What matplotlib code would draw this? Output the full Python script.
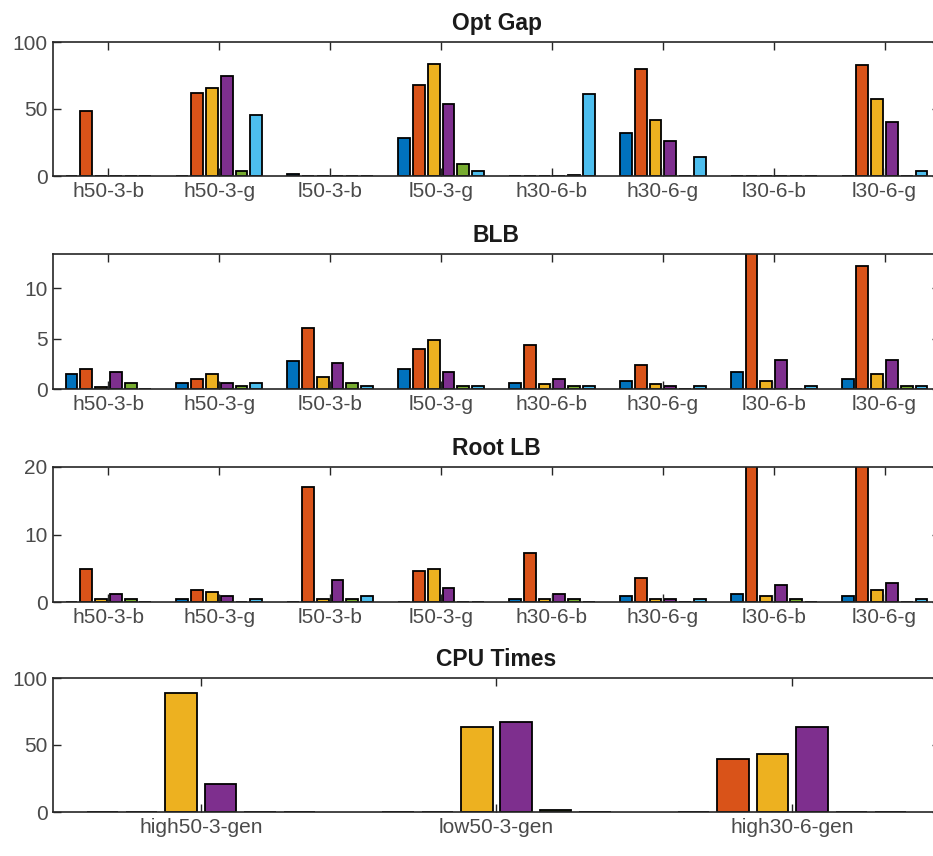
import numpy as np
import matplotlib
matplotlib.use("Agg")
import matplotlib.pyplot as plt

plt.rcParams['font.family'] = ['Liberation Sans', 'DejaVu Sans']

groups = ["h50-3-b", "h50-3-g", "l50-3-b", "l50-3-g", "h30-6-b", "h30-6-g", "l30-6-b", "l30-6-g"]
cpu_groups = ["high50-3-gen", "low50-3-gen", "high30-6-gen"]

# one list per series (6 series), one value per group
opt_gap = [
    [0, 0, 1.5, 28, 0, 32, 0, 0],
    [48.5, 62, 0, 68, 0, 80, 0, 83],
    [0, 66, 0, 83.5, 0, 42, 0, 57.5],
    [0, 74.5, 0, 54, 0, 26, 0, 40],
    [0, 3.5, 0, 9, 1, 0, 0, 0],
    [0, 45.5, 0, 3.5, 61, 14.5, 0, 3.5],
]
blb = [
    [1.5, 0.55, 2.8, 1.95, 0.55, 0.8, 1.7, 1.0],
    [1.95, 1.0, 6.05, 4.0, 4.4, 2.4, 15, 12.2],
    [0.2, 1.5, 1.15, 4.9, 0.45, 0.5, 0.8, 1.45],
    [1.7, 0.55, 2.6, 1.7, 1.0, 0.25, 2.85, 2.85],
    [0.55, 0.25, 0.55, 0.25, 0.25, 0, 0, 0.25],
    [0, 0.55, 0.3, 0.25, 0.25, 0.25, 0.25, 0.25],
]
root_lb = [
    [0, 0.4, 0, 0, 0.4, 0.84, 1.25, 0.84],
    [4.95, 1.85, 17.0, 4.55, 7.25, 3.55, 24, 24],
    [0.4, 1.5, 0.4, 4.95, 0.4, 0.4, 0.84, 1.75],
    [1.15, 0.84, 3.2, 2.1, 1.25, 0.4, 2.45, 2.8],
    [0.4, 0, 0.4, 0, 0.4, 0, 0.4, 0],
    [0, 0.4, 0.84, 0, 0, 0.4, 0, 0.4],
]
cpu_times = [
    [0, 0, 0],
    [0, 0, 39.5],
    [88.5, 63.5, 43],
    [21, 67.5, 63.5],
    [0, 1.5, 0],
    [0, 0, 0],
]

colors = ["#0072BD", "#D95319", "#EDB120", "#7E2F8E", "#77AC30", "#4DBEEE"]

W, H = 933, 856
fig = plt.figure(figsize=(W / 100, H / 100), dpi=100)

# (title, data, labels, ylim, yticks, top px, bottom px)
panels = [
    ("Opt Gap", opt_gap, groups, 100, [0, 50, 100], 42, 176),
    ("BLB", blb, groups, 13.4, [0, 5, 10], 254, 389),
    ("Root LB", root_lb, groups, 20, [0, 10, 20], 467, 602),
    ("CPU Times", cpu_times, cpu_groups, 100, [0, 50, 100], 678, 812),
]

left_px, right_px = 53, 940
for title, data, labels, ymax, yticks, top, bot in panels:
    ax = fig.add_axes([left_px / W, 1 - bot / H, (right_px - left_px) / W, (bot - top) / H])
    n = len(data)
    x = np.arange(1, len(labels) + 1)
    step = 0.8 / n
    for i, vals in enumerate(data):
        ax.bar(x + (i - (n - 1) / 2) * step, vals, width=step * 0.8,
               color=colors[i], edgecolor="black", linewidth=1.3)
    ax.set_xlim(0.5, len(labels) + 0.5)
    ax.set_ylim(0, ymax)
    ax.set_xticks(x)
    ax.set_xticklabels(labels)
    ax.set_yticks(yticks)
    ax.tick_params(direction="in", length=6, width=1, top=True, right=True,
                   labelsize=15, colors="#262626", labelcolor="#4a4a4a", pad=4)
    for s in ax.spines.values():
        s.set_color("#262626")
        s.set_linewidth(1.2)
    ax.set_title(title, fontsize=16.5, fontweight="bold", pad=8.5, color="#1a1a1a")

fig.savefig("out.png", dpi=100)
